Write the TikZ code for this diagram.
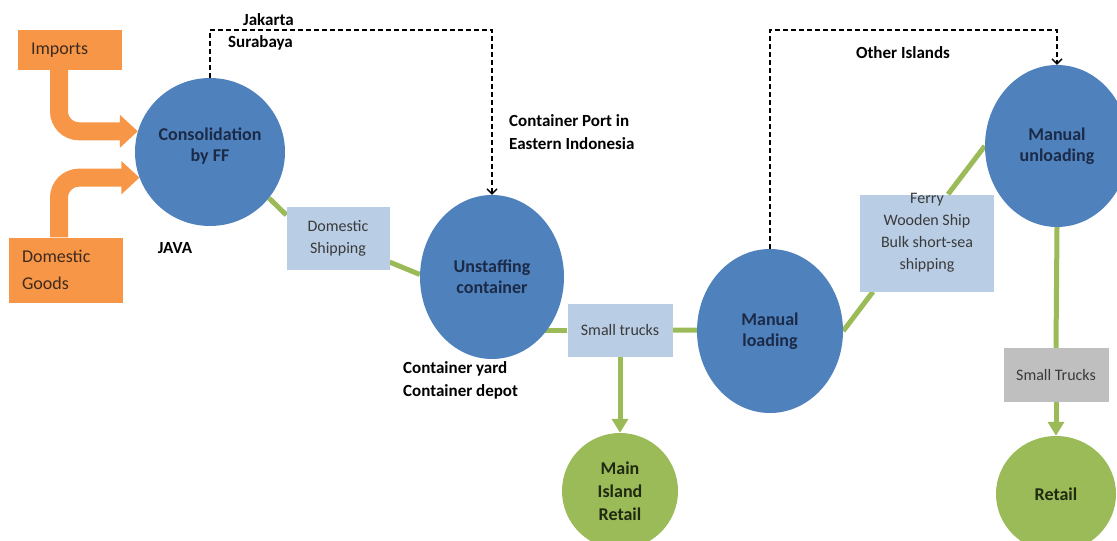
\documentclass[tikz,border=0pt]{standalone}
\usepackage{fontspec}
\setmainfont{Carlito}
\usetikzlibrary{shapes.geometric,arrows.meta,calc}
\pgfdeclarelayer{bg}
\pgfsetlayers{bg,main}
\definecolor{cblue}{HTML}{4F81BD}
\definecolor{navy}{HTML}{1B2A47}
\definecolor{corange}{HTML}{F79646}
\definecolor{otext}{HTML}{3D2B1F}
\definecolor{cgreen}{HTML}{9BBB59}
\definecolor{gtext}{HTML}{1F2A10}
\definecolor{lblue}{HTML}{B9CDE5}
\definecolor{cgray}{HTML}{BFBFBF}
\definecolor{btext}{HTML}{3A3A3A}
\begin{document}
\begin{tikzpicture}[x=1pt,y=-1pt,
  bigc/.style={ellipse, fill=cblue, text=navy, font=\fontsize{18}{21}\selectfont\bfseries, align=center, inner sep=0pt},
  grc/.style={ellipse, fill=cgreen, text=gtext, font=\fontsize{18}{23}\selectfont\bfseries, align=center, inner sep=0pt},
  tbox/.style={rectangle, fill=lblue, text=btext, font=\fontsize{16}{22}\selectfont, align=center, inner sep=0pt},
  obox/.style={rectangle, fill=corange, text=otext, font=\fontsize{18}{27}\selectfont, align=left, inner sep=0pt},
  lbl/.style={font=\fontsize{17}{23}\selectfont\bfseries, text=black, align=left, inner sep=0pt},
  link/.style={draw=cgreen, line width=5pt},
  garrow/.style={link, -{Triangle[length=14pt,width=16pt]}},
  dline/.style={draw=black, line width=1.3pt, dash pattern=on 5pt off 3pt, -{Straight Barb[length=5pt,width=10pt]}},
  oarrow/.style={draw=corange, line width=18pt, rounded corners=20pt, -{Triangle[length=18pt,width=32pt]}}
]
\useasboundingbox (0,0) rectangle (1117,541);

% orange boxes
\node[obox, minimum width=104pt, minimum height=40pt, text width=78pt] (imp) at (70,50) {Imports};
\node[obox, minimum width=114pt, minimum height=65pt, text width=88pt] (dg) at (66,270) {Domestic\\Goods};

% circles
\node[bigc, minimum width=150pt, minimum height=148pt] (cons) at (210,152) {Consolidation\\by FF\\[-6pt]\mbox{}};
\node[bigc, minimum width=144pt, minimum height=164pt] (unst) at (492,277) {Unstaffing\\container};
\node[bigc, minimum width=146pt, minimum height=164pt] (mload) at (770,331) {Manual\\loading};
\node[bigc, minimum width=144pt, minimum height=162pt] (munl) at (1057,146) {Manual\\unloading};
\node[grc, minimum width=116pt, minimum height=116pt] (mir) at (620,491) {Main\\Island\\Retail};
\node[grc, minimum width=120pt, minimum height=116pt] (retail) at (1056,494) {Retail};

% transport boxes
\node[tbox, minimum width=103pt, minimum height=63pt] (dship) at (338,238) {Domestic\\Shipping};
\node[tbox, minimum width=105pt, minimum height=53pt] (strk) at (620,330) {Small trucks};
\node[tbox, minimum width=134pt, minimum height=97pt] (ferry) at (927,243) {};
\node[tbox, fill=none] (ferryt) at (927,233) {Ferry\\Wooden Ship\\Bulk short-sea\\shipping};
\node[tbox, fill=cgray, minimum width=105pt, minimum height=54pt] (gtrk) at (1056,375) {Small Trucks};

% labels
\node[lbl, anchor=west] (jak) at (243,20) {Jakarta};
\node[lbl, anchor=west] (sur) at (228,43) {Surabaya};
\node[lbl] (java) at (175,248) {JAVA};
\node[lbl, anchor=north west] (cport) at (509,114) {Container Port in\\Eastern Indonesia};
\node[lbl, anchor=north west] (cyard) at (403,361) {Container yard\\Container depot};
\node[lbl] (oth) at (903,53) {Other Islands};

\coordinate (d1) at (492,30);
\coordinate (d2) at (1057,30);

\begin{pgfonlayer}{bg}
  \draw[oarrow] ([xshift=-11pt]imp.south) |- (cons.164);
  \draw[oarrow] ([xshift=-7pt]dg.north) |- (cons.200);
  \draw[link] (cons.-38) -- (dship.156);
  \draw[link] (dship.-25) -- (unst.178);
  \draw[link] (strk.west) -- (strk.west -| unst.center);
  \draw[link] (strk.east) -- (mload.center);
  \draw[link] (mload.east) -- ([xshift=-54pt]ferry.south);
  \draw[link] ([xshift=21pt]ferry.north) -- (munl.west);
  \draw[link] (munl.south) -- (gtrk.north);
\end{pgfonlayer}
\draw[garrow] (strk.south) -- (strk.south |- mir.north);
\draw[garrow] (gtrk.south) -- (gtrk.south |- retail.north);
\draw[dline] (cons.north) |- (d1) -- (unst.north);
\draw[dline] (mload.north) |- (d2) -- (munl.north);
\end{tikzpicture}
\end{document}
